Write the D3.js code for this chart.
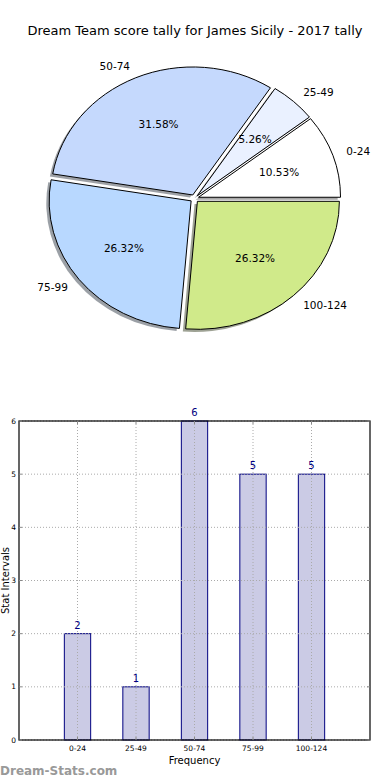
<!DOCTYPE html>
<html><head><meta charset="utf-8">
<script src="https://cdn.jsdelivr.net/npm/d3@7"></script>
<style>body{margin:0;background:#fff;}svg{display:block;font-family:"DejaVu Sans",sans-serif;}</style>
</head><body>
<script>
const categories = ["0-24","25-49","50-74","75-99","100-124"];
const counts = [2,1,6,5,5];
const pieColors = ["#ffffff","#eaf1ff","#c5d9fd","#b8d8ff","#d0ea8a"];
const yTicks = [0,1,2,3,4,5,6];
const title = "Dream Team score tally for James Sicily - 2017 tally";

const W=390,H=780;
const svg=d3.select("body").append("svg").attr("width",W).attr("height",H);

svg.append("text").attr("x",195).attr("y",35).attr("text-anchor","middle")
  .attr("font-size",13).attr("fill","#000").text(title);

// ---- Pie ----
const cx=194.5, cy=198.5, rx=142, ry=128, explode=0.03;
const total=d3.sum(counts);
const pie=d3.pie().sort(null).startAngle(Math.PI/2).endAngle(Math.PI/2-2*Math.PI);
const arcs=pie(counts);
const arc=d3.arc().innerRadius(0).outerRadius(rx);
const pg=svg.append("g");
function mid(a){ const m=(a.startAngle+a.endAngle)/2; return Math.PI/2-m; }
arcs.forEach((a,i)=>{
  const t=mid(a);
  const ox=cx+explode*rx*Math.cos(t)-0.02*rx, oy=cy-explode*ry*Math.sin(t)+0.02*ry;
  const c=d3.rgb(pieColors[i]);
  pg.append("path").attr("d",arc(a))
    .attr("transform",`translate(${ox},${oy}) scale(1,${ry/rx})`)
    .attr("fill",d3.rgb(c.r*0.3,c.g*0.3,c.b*0.3)).attr("opacity",0.5).attr("stroke","none");
});
arcs.forEach((a,i)=>{
  const t=mid(a);
  const ox=cx+explode*rx*Math.cos(t), oy=cy-explode*ry*Math.sin(t);
  pg.append("path").attr("d",arc(a))
    .attr("transform",`translate(${ox},${oy}) scale(1,${ry/rx})`)
    .attr("fill",pieColors[i]).attr("stroke","#000").attr("stroke-width",1)
    .attr("vector-effect","non-scaling-stroke");
  const lx=ox+1.1*rx*Math.cos(t), ly=oy-1.1*ry*Math.sin(t);
  pg.append("text").attr("x",lx).attr("y",ly).attr("dy","0.35em")
    .attr("text-anchor",Math.cos(t)>0?"start":"end").attr("font-size",10.5).attr("fill","#000")
    .text(categories[i]);
  const px=ox+0.6*rx*Math.cos(t), py=oy-0.6*ry*Math.sin(t);
  pg.append("text").attr("x",px).attr("y",py).attr("dy","0.35em")
    .attr("text-anchor","middle").attr("font-size",10.5).attr("fill","#000")
    .text((counts[i]/total*100).toFixed(2)+"%");
});

// ---- Bar chart ----
const L=19,R=370,T=421,B=740;
const x=d3.scaleLinear().domain([0,categories.length+1]).range([L,R]);
const y=d3.scaleLinear().domain([0,6]).range([B,T]);
const bg=svg.append("g");
const bw=0.45;
bg.selectAll("rect.bar").data(counts).enter().append("rect")
  .attr("x",(d,i)=>x(i+1-bw/2)).attr("width",x(bw)-x(0))
  .attr("y",d=>y(d)).attr("height",d=>y(0)-y(d))
  .attr("fill","#cbcbe5").attr("stroke","#000080").attr("stroke-width",1);
bg.selectAll("line.gy").data(yTicks).enter().append("line")
  .attr("x1",L).attr("x2",R).attr("y1",d=>y(d)).attr("y2",d=>y(d))
  .attr("stroke","#aaa").attr("stroke-dasharray","1,2").attr("stroke-width",1);
bg.selectAll("line.gx").data(categories).enter().append("line")
  .attr("x1",(d,i)=>x(i+1)).attr("x2",(d,i)=>x(i+1)).attr("y1",T).attr("y2",B)
  .attr("stroke","#aaa").attr("stroke-dasharray","1,2").attr("stroke-width",1);
bg.append("rect").attr("x",L).attr("y",T).attr("width",R-L).attr("height",B-T)
  .attr("fill","none").attr("stroke","#000").attr("stroke-width",1.2);
bg.selectAll("line.ty").data(yTicks).enter().append("line")
  .attr("x1",L).attr("x2",L+3).attr("y1",d=>y(d)).attr("y2",d=>y(d)).attr("stroke","#888");
bg.selectAll("line.ty2").data(yTicks).enter().append("line")
  .attr("x1",R-3).attr("x2",R).attr("y1",d=>y(d)).attr("y2",d=>y(d)).attr("stroke","#888");
bg.selectAll("line.tx").data(categories).enter().append("line")
  .attr("x1",(d,i)=>x(i+1)).attr("x2",(d,i)=>x(i+1)).attr("y1",B).attr("y2",B-3).attr("stroke","#888");
bg.selectAll("line.tx2").data(categories).enter().append("line")
  .attr("x1",(d,i)=>x(i+1)).attr("x2",(d,i)=>x(i+1)).attr("y1",T).attr("y2",T+3).attr("stroke","#888");
bg.selectAll("text.yl").data(yTicks).enter().append("text")
  .attr("x",L-3).attr("y",d=>y(d)).attr("dy","0.35em").attr("text-anchor","end")
  .attr("font-size",7.5).attr("fill","#000").text(d=>d);
bg.selectAll("text.xl").data(categories).enter().append("text")
  .attr("x",(d,i)=>x(i+1)).attr("y",B+11).attr("text-anchor","middle")
  .attr("font-size",7.5).attr("fill","#000").text(d=>d);
bg.selectAll("text.vl").data(counts).enter().append("text")
  .attr("x",(d,i)=>x(i+1)).attr("y",d=>y(d)-5).attr("text-anchor","middle")
  .attr("font-size",10).attr("fill","#000080").text(d=>d);
bg.append("text").attr("x",(L+R)/2).attr("y",764).attr("text-anchor","middle")
  .attr("font-size",10).attr("fill","#000").text("Frequency");
bg.append("text").attr("transform",`translate(9,${(T+B)/2}) rotate(-90)`)
  .attr("text-anchor","middle").attr("font-size",10).attr("fill","#000").text("Stat Intervals");
svg.append("text").attr("x",0).attr("y",775).attr("font-size",12).attr("font-weight","bold")
  .attr("fill","#999").text("Dream-Stats.com");
</script>
</body></html>
